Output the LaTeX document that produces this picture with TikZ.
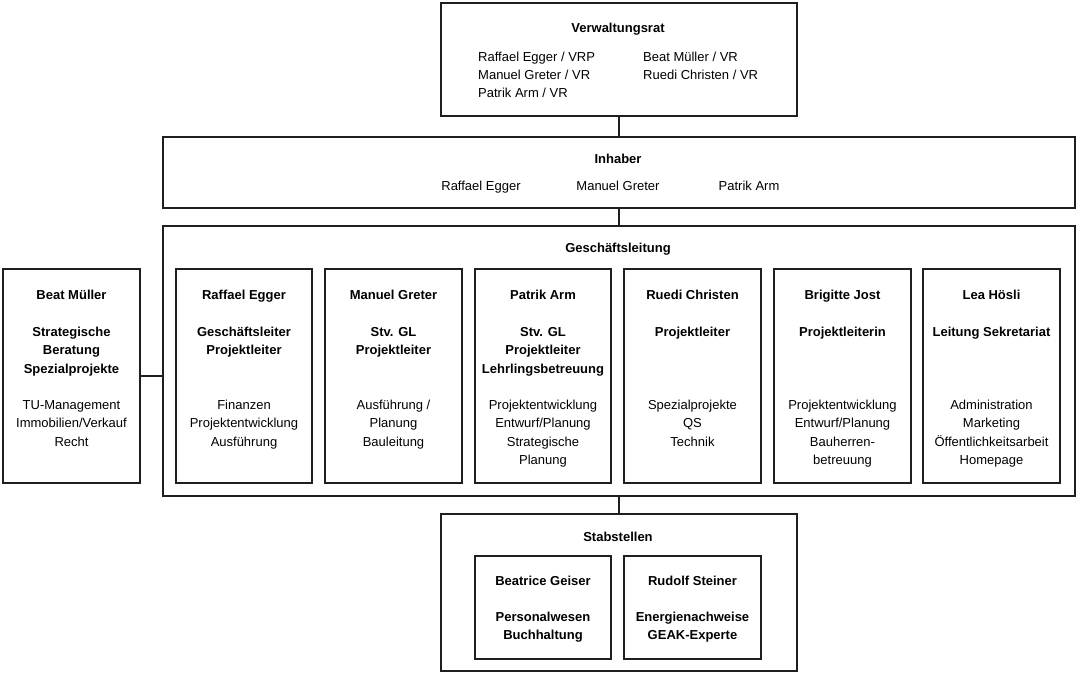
\documentclass[tikz,border=0pt]{standalone}
\usepackage{fontspec}
\setmainfont{Liberation Sans}
\newcommand\regfont{\fontsize{13}{15}\selectfont}
\newcommand\boldfont{\fontsize{13}{15}\selectfont\bfseries}
\tikzset{
  box/.style={draw=black!88, line width=1.9pt, rectangle, inner sep=0pt},
  conn/.style={draw=black!88, line width=1.9pt},
  treg/.style={font=\regfont, inner sep=0pt, anchor=base},
  tbold/.style={font=\boldfont, inner sep=0pt, anchor=base},
}
\newcommand\mklines[5]{%
  \foreach \s [count=\i from 0] in {#5} {\node[#4] (#1-\i) at (#2,{#3+\i*18.5}) {\s};}}
\begin{document}
\begin{tikzpicture}[x=1pt,y=-1pt]
\useasboundingbox (0,0) rectangle (1077,675);
% main boxes
\node[box, minimum width=356pt, minimum height=113pt] (vr) at (619,59.5) {};
\node[box, minimum width=912pt, minimum height=71pt] (inh) at (619,172.5) {};
\node[box, minimum width=912pt, minimum height=270pt] (gl) at (619,361) {};
\node[box, minimum width=356pt, minimum height=157pt] (stab) at (619,592.5) {};
\node[box, minimum width=137pt, minimum height=214pt] (bm) at (71.5,376) {};
% inner GL boxes
\node[box, minimum width=136pt, minimum height=214pt] (b1) at (244,376) {};
\node[box, minimum width=137pt, minimum height=214pt] (b2) at (393.5,376) {};
\node[box, minimum width=136pt, minimum height=214pt] (b3) at (543,376) {};
\node[box, minimum width=137pt, minimum height=214pt] (b4) at (692.5,376) {};
\node[box, minimum width=137pt, minimum height=214pt] (b5) at (842.5,376) {};
\node[box, minimum width=137pt, minimum height=214pt] (b6) at (991.5,376) {};
% inner Stab boxes
\node[box, minimum width=136pt, minimum height=103pt] (s1) at (543,607.5) {};
\node[box, minimum width=137pt, minimum height=103pt] (s2) at (692.5,607.5) {};
% connectors
\draw[conn] (vr.south) -- (inh.north);
\draw[conn] (inh.south) -- (gl.north);
\draw[conn] (gl.south) -- (stab.north);
\draw[conn] (bm.east) -- (bm.east -| gl.west);
% Verwaltungsrat
\node[tbold] (vrt) at (618,32) {Verwaltungsrat};
\foreach \s [count=\i from 0] in {Raffael Egger / VRP, Manuel Greter / VR, Patrik Arm / VR}
  {\node[treg, anchor=base west] (vrl-\i) at (478,{61.5+\i*18}) {\s};}
\foreach \s [count=\i from 0] in {Beat Müller / VR, Ruedi Christen / VR}
  {\node[treg, anchor=base west] (vrr-\i) at (643,{61.5+\i*18}) {\s};}
% Inhaber
\node[tbold] (inht) at (618,163) {Inhaber};
\node[treg] (inh1) at (481,190) {Raffael Egger};
\node[treg] (inh2) at (618,190) {Manuel Greter};
\node[treg] (inh3) at (749,190) {Patrik Arm};
% Geschaeftsleitung
\node[tbold] (glt) at (618,252) {Geschäftsleitung};
% Beat Mueller
\node[tbold] (bmn) at (71.5,299) {Beat Müller};
\mklines{bmb}{71.5}{336}{tbold}{Strategische, Beratung, Spezialprojekte}
\mklines{bmr}{71.5}{409}{treg}{TU-Management, Immobilien/Verkauf, Recht}
% box 1
\node[tbold] (b1n) at (244,299) {Raffael Egger};
\mklines{b1b}{244}{336}{tbold}{Geschäftsleiter, Projektleiter}
\mklines{b1r}{244}{409}{treg}{Finanzen, Projektentwicklung, Ausführung}
% box 2
\node[tbold] (b2n) at (393.5,299) {Manuel Greter};
\mklines{b2b}{393.5}{336}{tbold}{Stv. GL, Projektleiter}
\mklines{b2r}{393.5}{409}{treg}{Ausführung /, Planung, Bauleitung}
% box 3
\node[tbold] (b3n) at (543,299) {Patrik Arm};
\mklines{b3b}{543}{336}{tbold}{Stv. GL, Projektleiter, Lehrlingsbetreuung}
\mklines{b3r}{543}{409}{treg}{Projektentwicklung, Entwurf/Planung, Strategische, Planung}
% box 4
\node[tbold] (b4n) at (692.5,299) {Ruedi Christen};
\mklines{b4b}{692.5}{336}{tbold}{Projektleiter}
\mklines{b4r}{692.5}{409}{treg}{Spezialprojekte, QS, Technik}
% box 5
\node[tbold] (b5n) at (842.5,299) {Brigitte Jost};
\mklines{b5b}{842.5}{336}{tbold}{Projektleiterin}
\mklines{b5r}{842.5}{409}{treg}{Projektentwicklung, Entwurf/Planung, Bauherren-, betreuung}
% box 6
\node[tbold] (b6n) at (991.5,299) {Lea Hösli};
\mklines{b6b}{991.5}{336}{tbold}{Leitung Sekretariat}
\mklines{b6r}{991.5}{409}{treg}{Administration, Marketing, Öffentlichkeitsarbeit, Homepage}
% Stabstellen
\node[tbold] (stt) at (618,541) {Stabstellen};
\node[tbold] (s1n) at (543,585) {Beatrice Geiser};
\mklines{s1b}{543}{621}{tbold}{Personalwesen, Buchhaltung}
\node[tbold] (s2n) at (692.5,585) {Rudolf Steiner};
\mklines{s2b}{692.5}{621}{tbold}{Energienachweise, GEAK-Experte}
\end{tikzpicture}
\end{document}
